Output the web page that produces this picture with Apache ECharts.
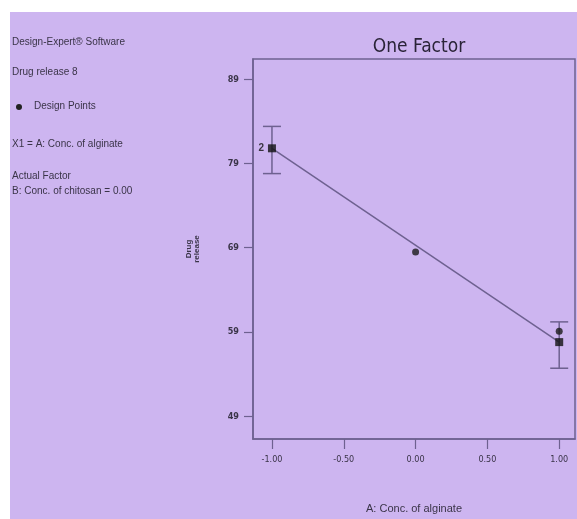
<!DOCTYPE html>
<html><head><meta charset="utf-8">
<style>html,body{margin:0;padding:0;background:#fff;}#c{width:577px;height:519px;}</style>
<script src="https://cdn.jsdelivr.net/npm/echarts@6/dist/echarts.min.js"></script>
</head><body><div id="c"></div>
<script>
var xTicks = [-1, -0.5, 0, 0.5, 1];
var yTicks = [49, 59, 69, 79, 89];
var fitLine = [[-1, 80.8], [1, 57.8]];
var circlePoints = [[0, 68.5], [1, 59.1]];
var squarePoints = [[-1, 80.8], [1, 57.8]];
var errBars = [[-1, 77.8, 83.4], [1, 54.7, 60.2]];
var squareLabels = ['2', ''];

var bg = '#cdb5f0';
var lineC = '#6e6190';
var textC = '#3a3448';
var chart = echarts.init(document.getElementById('c'), null, {renderer: 'canvas'});
var leftTexts = [
  ['Design-Expert® Software', 43],
  ['Drug release 8', 73],
  ['Design Points', 107],
  ['X1 = A: Conc. of alginate', 145],
  ['Actual Factor', 177],
  ['B: Conc. of chitosan = 0.00', 192]
];
var graphics = [{type: 'rect', z: -10, shape: {x: 10, y: 12, width: 567, height: 507}, style: {fill: bg}}];
leftTexts.forEach(function (t, i) {
  graphics.push({type: 'text', left: i === 2 ? 34 : 12, top: t[1] - 6,
    style: {text: t[0], fill: textC, font: '10px "Liberation Sans", Arial, sans-serif'}});
});
graphics.push({type: 'circle', shape: {cx: 19, cy: 107, r: 3}, style: {fill: '#222'}});

chart.setOption({
  animation: false,
  backgroundColor: 'transparent',
  title: {text: 'One Factor', left: 414, top: 33, textAlign: 'center',
    textStyle: {fontFamily: '"Liberation Sans Narrow", "DejaVu Sans Condensed", sans-serif', fontSize: 19, fontWeight: 'normal', color: '#2a2438'}},
  graphic: graphics,
  grid: {left: 253, top: 59, right: 2, bottom: 78, show: true, borderColor: lineC, borderWidth: 1.5, backgroundColor: 'transparent'},
  xAxis: {type: 'value', min: -1.132, max: 1.11, name: 'A: Conc. of alginate', nameLocation: 'middle', nameGap: 64,
    nameTextStyle: {fontSize: 11, color: textC, fontFamily: '"Liberation Sans", Arial, sans-serif'},
    axisLine: {show: true, onZero: false, lineStyle: {color: lineC, width: 1.5}},
    axisTick: {show: true, length: 10, customValues: xTicks, lineStyle: {color: lineC, width: 1.2}},
    axisLabel: {customValues: xTicks, margin: 16, fontSize: 9, color: textC, fontFamily: '"Liberation Sans Narrow", "DejaVu Sans Condensed", sans-serif',
      formatter: function (v) { return v.toFixed(2); }},
    splitLine: {show: false}},
  yAxis: {type: 'value', min: 46.3, max: 91.4, name: 'Drug\nrelease', nameLocation: 'middle', nameGap: 52, nameRotate: 90,
    nameTextStyle: {fontSize: 8, fontWeight: 'bold', color: textC, lineHeight: 8},
    axisLine: {show: true, onZero: false, lineStyle: {color: lineC, width: 1.5}},
    axisTick: {show: true, length: 9, customValues: yTicks, lineStyle: {color: lineC, width: 1.2}},
    axisLabel: {customValues: yTicks, margin: 14, fontSize: 9, fontWeight: 'bold', color: textC, fontFamily: '"Liberation Sans Narrow", "DejaVu Sans Condensed", sans-serif'},
    splitLine: {show: false}},
  series: [
    {type: 'line', data: fitLine, symbol: 'none', lineStyle: {color: lineC, width: 1.5}, z: 2},
    {type: 'custom', data: errBars, z: 3, renderItem: function (params, api) {
      var x = api.value(0);
      var lo = api.coord([x, api.value(1)]);
      var hi = api.coord([x, api.value(2)]);
      var w = 9;
      var st = {stroke: lineC, lineWidth: 1.5};
      return {type: 'group', children: [
        {type: 'line', shape: {x1: lo[0], y1: lo[1], x2: hi[0], y2: hi[1]}, style: st},
        {type: 'line', shape: {x1: lo[0] - w, y1: lo[1], x2: lo[0] + w, y2: lo[1]}, style: st},
        {type: 'line', shape: {x1: hi[0] - w, y1: hi[1], x2: hi[0] + w, y2: hi[1]}, style: st}
      ]};
    }},
    {type: 'scatter', data: circlePoints, symbol: 'circle', symbolSize: 7, itemStyle: {color: '#1a1a1a'}, z: 5},
    {type: 'scatter', data: squarePoints.map(function (p, i) { return {value: p, label: {show: !!squareLabels[i], formatter: squareLabels[i]}}; }),
      symbol: 'rect', symbolSize: 8, itemStyle: {color: '#111'}, z: 5,
      label: {position: 'left', distance: 4, fontSize: 10, fontWeight: 'bold', color: '#111', fontFamily: '"Liberation Sans Narrow", sans-serif'}}
  ]
});
</script></body></html>
